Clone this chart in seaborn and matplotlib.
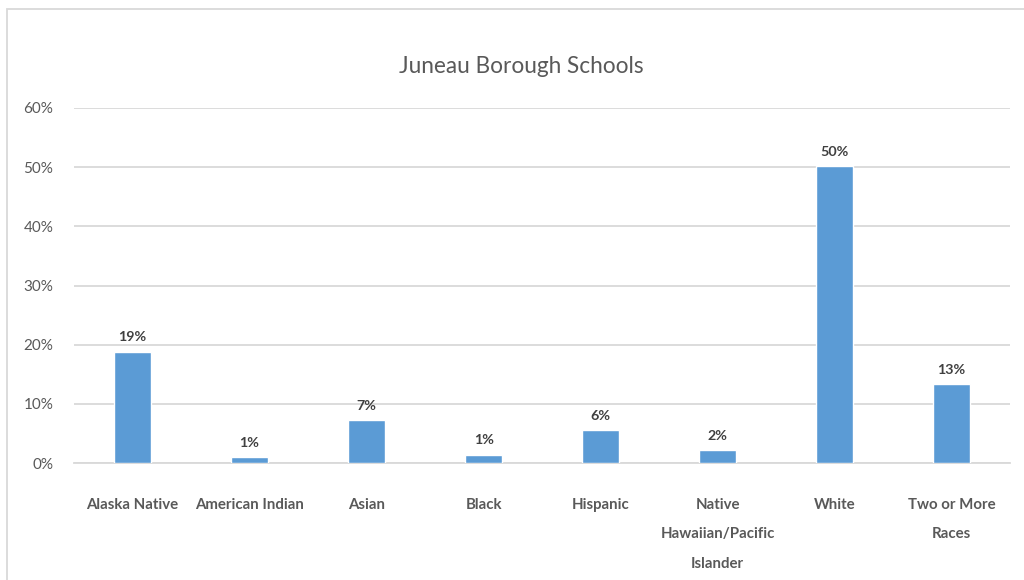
import pandas as pd
import numpy as np
import seaborn as sns
import matplotlib.pyplot as plt
from matplotlib.patches import Rectangle

# share of students by race/ethnicity (percent)
categories = ['Alaska Native', 'American Indian', 'Asian', 'Black', 'Hispanic',
              'Native Hawaiian/Pacific Islander', 'White', 'Two or More Races']
tick_labels = ['Alaska Native', 'American Indian', 'Asian', 'Black', 'Hispanic',
               'Native\nHawaiian/Pacific\nIslander', 'White', 'Two or More\nRaces']
shares = [18.8, 1.0, 7.2, 1.4, 5.6, 2.2, 50.2, 13.3]
y_ticks = [0, 10, 20, 30, 40, 50, 60]

sns.set_style('white')
plt.rcParams['font.family'] = ['Lato', 'DejaVu Sans']

df = pd.DataFrame({'race': categories, 'share': shares})

fig = plt.figure(figsize=(10.24, 5.8), dpi=100)
ax = fig.add_axes([0.0723, 0.2017, 0.9141, 0.6121])

# chart frame (runs off the right and bottom edges)
fig.patches.append(Rectangle((7 / 1024, -0.1), 1.2, 1 - 9 / 580 + 0.1,
                             transform=fig.transFigure, fill=False,
                             edgecolor='#d9d9d9', linewidth=1.3))

sns.barplot(data=df, x='race', y='share', color='#5b9bd5', width=0.315,
            saturation=1, ax=ax, zorder=3)

ax.set_ylim(0, 60)
ax.set_xlim(-0.5, len(categories) - 0.5)
ax.set_yticks(y_ticks)
ax.set_yticklabels([f'{t}%' for t in y_ticks])
ax.set_xticks(range(len(categories)))
ax.set_xticklabels(tick_labels, fontweight='bold', linespacing=2.4,
                   va='top')
ax.tick_params(axis='y', length=0, pad=15, labelsize=11, labelcolor='#595959')
ax.tick_params(axis='x', length=0, pad=25, labelsize=10.8, labelcolor='#595959')
ax.set_xlabel('')
ax.set_ylabel('')

ax.grid(axis='y', color='#d9d9d9', linewidth=1.3, zorder=0)
for s in ['top', 'right', 'left']:
    ax.spines[s].set_visible(False)
ax.spines['bottom'].set_color('#d9d9d9')
ax.spines['bottom'].set_linewidth(1.3)

ax.bar_label(ax.containers[0], labels=[f'{v:.0f}%' for v in shares],
             padding=6, fontsize=10.3, fontweight='bold', color='#404040')

fig.text(0.509, 0.8845, 'Juneau Borough Schools', ha='center', va='center',
         fontsize=16.3, color='#595959')

fig.savefig('out.png', dpi=100)
